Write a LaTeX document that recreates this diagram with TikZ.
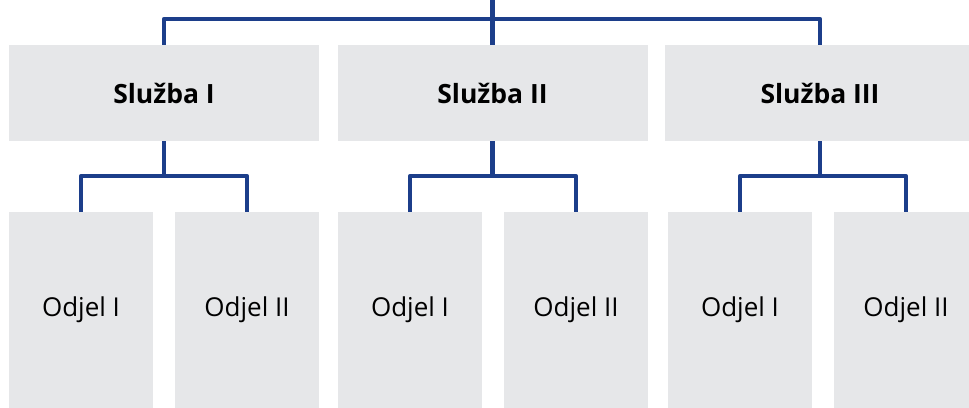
\documentclass[tikz,border=0pt]{standalone}
\usepackage{fontspec}
\setmainfont{Open Sans}
\definecolor{orgblue}{RGB}{28,62,138}
\definecolor{orggray}{RGB}{230,231,233}
\tikzset{
  sluzba/.style={fill=orggray, minimum width=310pt, minimum height=96pt,
    inner sep=0pt, font=\fontsize{26.5}{30}\selectfont\bfseries},
  odjel/.style={fill=orggray, minimum width=144pt, minimum height=196pt,
    inner sep=0pt, font=\fontsize{26}{30}\selectfont},
  veza/.style={draw=orgblue, line width=4.5pt, line join=round}
}
\begin{document}
\begin{tikzpicture}[x=1pt,y=-1pt]
\useasboundingbox (0,0) rectangle (969,407);
%%% Services
\node[sluzba] (s1) at (164,93) {Služba I};
\node[sluzba] (s2) at (492.5,93) {Služba II};
\node[sluzba] (s3) at (820,93) {Služba III};
%%% Departments
\node[odjel] (o11) at (81,310) {Odjel I};
\node[odjel] (o12) at (247,310) {Odjel II};
\node[odjel] (o21) at (410,310) {Odjel I};
\node[odjel] (o22) at (576,310) {Odjel II};
\node[odjel] (o31) at (740,310) {Odjel I};
\node[odjel] (o32) at (906,310) {Odjel II};
%Top level
\coordinate (root) at (492.5,-5);
\coordinate (bar) at (492.5,19);
\draw[veza] (root) -- (s2.north);
\draw[veza] (s1.north) |- (bar) -| (s3.north);
%Services to departments
\draw[veza] (s1.south) -- ++(0,35) coordinate (j1);
\draw[veza] (o11.north) |- (j1) -| (o12.north);
\draw[veza] (s2.south) -- ++(0,35) coordinate (j2);
\draw[veza] (o21.north) |- (j2) -| (o22.north);
\draw[veza] (s3.south) -- ++(0,35) coordinate (j3);
\draw[veza] (o31.north) |- (j3) -| (o32.north);
\end{tikzpicture}
\end{document}
